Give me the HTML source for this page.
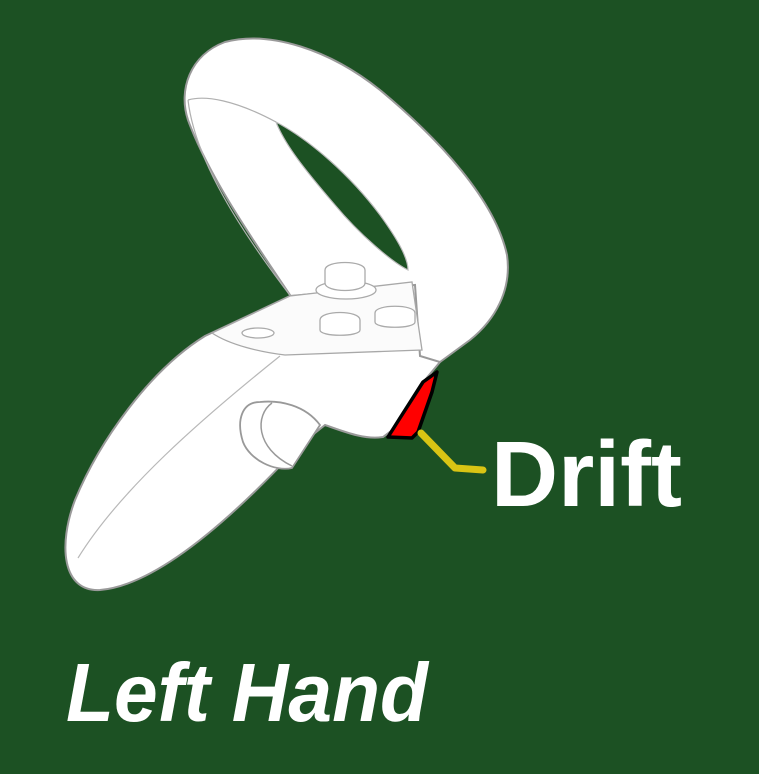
<!DOCTYPE html>
<html><head><meta charset="utf-8"><style>
html,body{margin:0;padding:0;background:#1c5123;}
svg{display:block}
</style></head><body>
<svg width="759" height="774" viewBox="0 0 759 774" xmlns="http://www.w3.org/2000/svg">
<rect x="0" y="0" width="759" height="774" fill="#1c5123"/>
<g stroke="#9a9a9a" stroke-width="2" fill="#ffffff">
  <path d="M292,298 C260,250 210,180 188,120 C178,90 190,55 225,42 C270,30 330,50 380,90 C440,140 495,200 507,255 C512,290 495,320 470,340 L440,362 L420,360 L410,290 Z"/>
  <path fill="#1c5123" stroke="#bbb" stroke-width="1.2" d="M276,122 C310,140 350,175 380,215 C398,240 408,258 408,270 C392,262 360,235 335,205 C305,170 285,145 276,122 Z"/>
  <path fill="none" stroke="#b0b0b0" stroke-width="1.2" d="M188,100 C205,95 235,100 276,122 M188,100 C195,160 240,230 292,298"/>
  <path d="M205,336 C150,370 100,440 75,500 C58,545 62,592 100,590 C160,585 240,510 300,445 L325,425 C345,432 365,440 383,437 L395,428 L425,380 L440,362 L420,356 L415,285 L290,296 Z"/>
  <path fill="#fbfbfb" stroke="#a8a8a8" stroke-width="1.3" d="M212,333 L290,296 L412,282 L422,350 L285,355 C260,352 230,345 212,333 Z"/>
  <path fill="none" stroke="#b8b8b8" stroke-width="1.2" d="M280,356 C200,420 120,490 78,558"/>
  <ellipse cx="258" cy="333" rx="16" ry="5" fill="#fff" stroke="#aaa" stroke-width="1.3"/>
  <ellipse cx="346" cy="290" rx="30" ry="9" fill="#fff" stroke="#aaa" stroke-width="1.3"/>
  <path d="M325,270 C325,260 365,260 365,270 L365,283 C365,293 325,293 325,283 Z" fill="#fff" stroke="#aaa" stroke-width="1.3"/>
  <path d="M320,320 C320,310 360,310 360,320 L360,330 C360,337 320,337 320,330 Z" fill="#fff" stroke="#aaa" stroke-width="1.3"/>
  <path d="M375,313 C375,304 415,304 415,313 L415,322 C415,329 375,329 375,322 Z" fill="#fff" stroke="#aaa" stroke-width="1.3"/>
  <path d="M260,402 C242,402 236,420 243,442 C250,460 275,472 292,468 L320,425 C305,405 280,400 260,402 Z" fill="#fff" stroke="#999" stroke-width="1.8"/>
  <path fill="none" stroke="#999" stroke-width="1.5" d="M272,403 C255,415 255,448 292,466"/>
</g>
<path d="M388,437 L400,418 L423,382 L437,372 L432,392 L418,432 L412,438 Z" fill="#ff0000" stroke="#000" stroke-width="3.5" stroke-linejoin="round"/>
<path d="M421,433 L455,468 L483,470" fill="none" stroke="#d9c414" stroke-width="7" stroke-linecap="round" stroke-linejoin="round"/>
<text x="491" y="506" font-family="Liberation Sans, sans-serif" font-weight="bold" font-size="93" fill="#fff" textLength="191" lengthAdjust="spacingAndGlyphs">Drift</text>
<text x="66" y="721" font-family="Liberation Sans, sans-serif" font-weight="bold" font-style="italic" font-size="83" fill="#fff" textLength="362" lengthAdjust="spacingAndGlyphs">Left Hand</text>
</svg>
</body></html>
